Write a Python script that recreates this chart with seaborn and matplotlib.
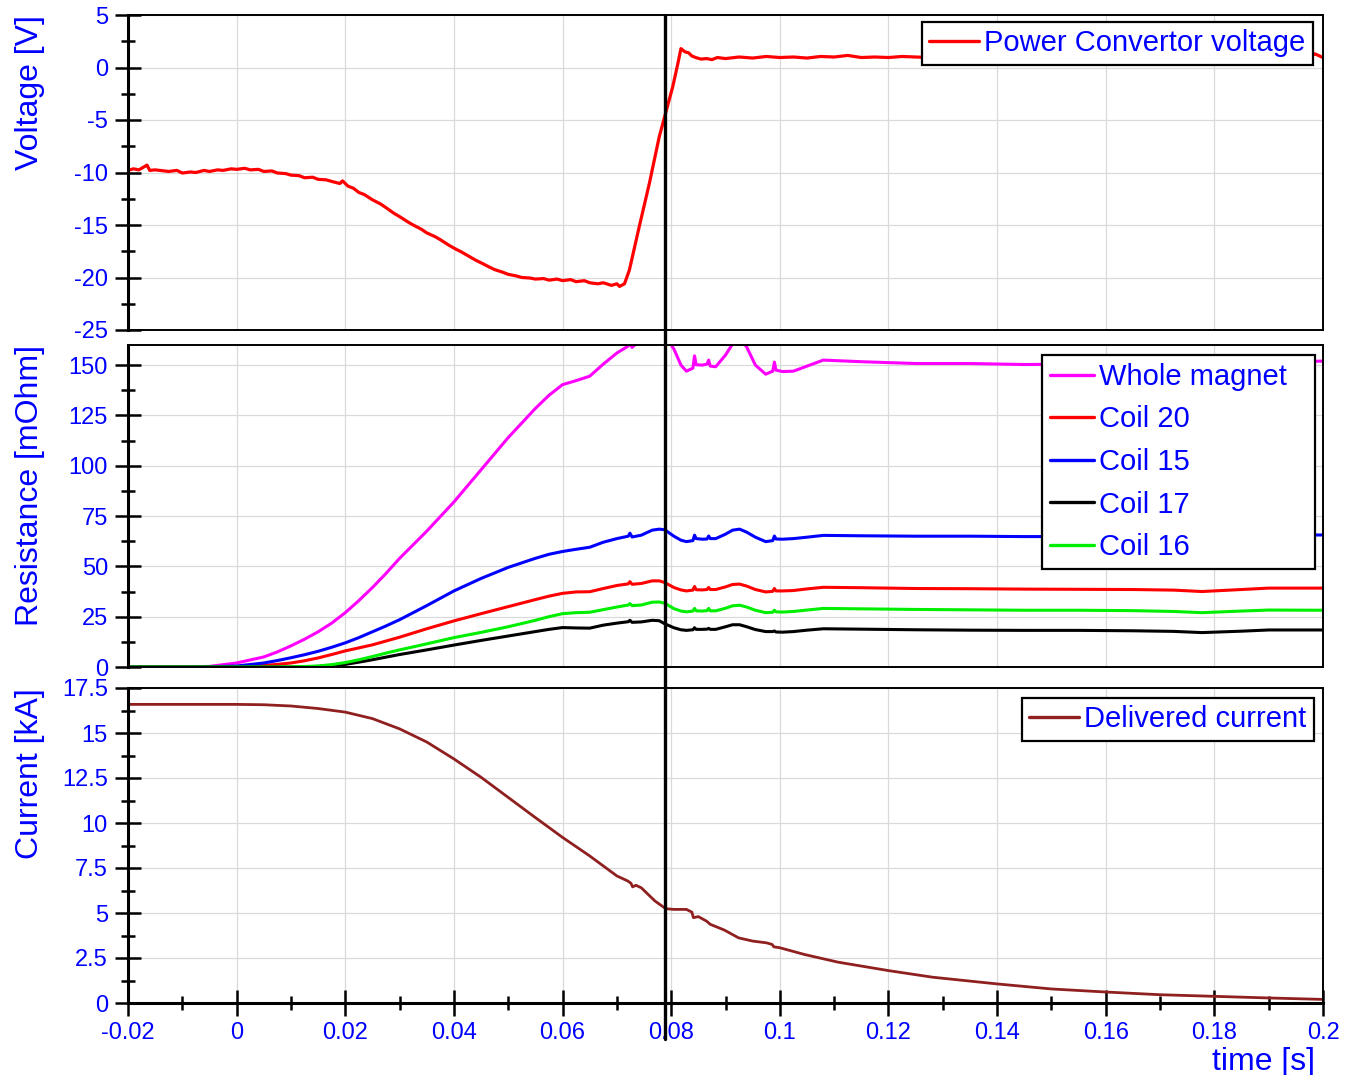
import numpy as np
import pandas as pd
import matplotlib
matplotlib.use("Agg")
import matplotlib.pyplot as plt
import matplotlib.transforms as mtransforms
from matplotlib.lines import Line2D
from matplotlib.ticker import MultipleLocator, FuncFormatter
import seaborn as sns

# ---------------------------------------------------------------- data
# power convertor voltage [V]
volt_t = [-0.02, -0.019, -0.018, -0.017, -0.0165, -0.016, -0.015, -0.0125, -0.011, -0.01,
          -0.0085, -0.0075, -0.006, -0.005, -0.0035, -0.0025, -0.001, 0.0, 0.0015, 0.0025,
          0.004, 0.005, 0.0065, 0.0075, 0.009, 0.01, 0.0115, 0.0125, 0.014, 0.015,
          0.0165, 0.0175, 0.019, 0.0195, 0.0205, 0.0215, 0.0225, 0.0235, 0.025, 0.0265,
          0.0275, 0.029, 0.03, 0.0315, 0.0325, 0.034, 0.035, 0.0365, 0.0375, 0.039,
          0.04, 0.0415, 0.0425, 0.044, 0.045, 0.0465, 0.0475, 0.049, 0.05, 0.0515,
          0.0525, 0.054, 0.055, 0.0565, 0.0575, 0.059, 0.06, 0.0615, 0.0625, 0.064,
          0.065, 0.0665, 0.0675, 0.069, 0.07, 0.0705, 0.0714, 0.0723, 0.0741, 0.076,
          0.0778, 0.0789, 0.0803, 0.0812, 0.0818, 0.0825, 0.0832, 0.0838, 0.0845, 0.0855,
          0.0865, 0.0875, 0.0885, 0.09, 0.0925, 0.095, 0.0975, 0.1, 0.1025, 0.105,
          0.1075, 0.11, 0.1125, 0.115, 0.1175, 0.12, 0.1225, 0.125, 0.1275, 0.13,
          0.1325, 0.135, 0.1375, 0.14, 0.1425, 0.145, 0.1475, 0.15, 0.1525, 0.155,
          0.1575, 0.16, 0.1625, 0.165, 0.1675, 0.17, 0.1725, 0.175, 0.1775, 0.18,
          0.1825, 0.185, 0.1875, 0.19, 0.1925, 0.195, 0.1975, 0.1985, 0.2]
volt_v = [-9.8, -9.65, -9.75, -9.45, -9.3, -9.8, -9.75, -9.9, -9.8, -10.05,
          -9.95, -10.0, -9.8, -9.9, -9.75, -9.8, -9.65, -9.7, -9.6, -9.75,
          -9.7, -9.9, -9.85, -10.05, -10.1, -10.25, -10.3, -10.5, -10.45, -10.65,
          -10.7, -10.85, -11.05, -10.8, -11.3, -11.5, -11.9, -12.1, -12.6, -13.0,
          -13.35, -13.9, -14.2, -14.7, -15.0, -15.4, -15.75, -16.1, -16.4, -16.9,
          -17.2, -17.6, -17.9, -18.35, -18.6, -19.0, -19.25, -19.5, -19.7, -19.85,
          -20.0, -20.05, -20.15, -20.1, -20.25, -20.15, -20.3, -20.2, -20.4, -20.3,
          -20.5, -20.6, -20.5, -20.75, -20.6, -20.85, -20.6, -19.3, -15.2, -11.0,
          -6.6, -4.5, -1.8, 0.3, 1.8, 1.5, 1.4, 1.1, 0.95, 0.8,
          0.85, 0.75, 0.95, 0.85, 1.0, 0.9, 1.05, 0.95, 1.0, 0.9,
          1.05, 1.0, 1.15, 0.95, 1.0, 0.95, 1.05, 1.0, 0.95, 1.1,
          1.0, 1.05, 1.0, 1.1, 1.0, 1.05, 1.0, 1.1, 1.05, 1.0,
          1.1, 1.0, 1.05, 1.1, 1.0, 1.05, 1.0, 1.1, 1.0, 1.05,
          1.0, 1.1, 1.0, 1.05, 1.0, 1.1, 1.0, 1.3, 0.95]

# resistance [mOhm], common time base
res_t = [-0.02, -0.01, -0.005, 0.0, 0.005, 0.0075, 0.01, 0.0125, 0.015, 0.0175,
         0.02, 0.0225, 0.025, 0.0275, 0.03, 0.035, 0.04, 0.045, 0.05, 0.055,
         0.0575, 0.06, 0.0625, 0.065, 0.0675, 0.07, 0.0721, 0.0724, 0.0728, 0.0745,
         0.0765, 0.0778, 0.0788, 0.0805, 0.0818, 0.0828, 0.084, 0.0843, 0.0846, 0.0857,
         0.0866, 0.0869, 0.0872, 0.0882, 0.09, 0.0913, 0.0926, 0.0939, 0.0955, 0.0974,
         0.0987, 0.099, 0.0993, 0.1005, 0.1025, 0.105, 0.108, 0.115, 0.125, 0.135,
         0.145, 0.155, 0.165, 0.1725, 0.1777, 0.185, 0.19, 0.2]
res_whole = [0, 0, 0.3, 2, 5, 7.5, 10.5, 13.8, 17.5, 21.8,
             27, 33, 39.5, 46.5, 54, 67.5, 82, 98, 114, 128.5,
             135, 140.3, 142.3, 144.5, 150.5, 156, 159.5, 161, 158.8, 163,
             165, 165, 165, 158, 150, 147, 148.5, 154.6, 150.2, 150,
             150.5, 152.5, 149.5, 149.2, 155, 160.5, 163, 159, 150, 145.5,
             147, 151.5, 147.5, 146.8, 147, 149.5, 152.5, 151.7, 150.8, 150.8,
             150.3, 150.5, 150.5, 150.5, 150, 151, 151.5, 152]
res_coil20 = [0, 0, 0, 0.2, 0.8, 1.3, 2, 3.1, 4.5, 6.2,
              8, 9.5, 11, 12.9, 14.8, 19, 22.9, 26.5, 30, 33.5,
              35.2, 36.6, 37.3, 37.4, 39, 40.5, 41.3, 42.4, 41.1, 41.5,
              42.8, 42.8, 42, 39.5, 38.3, 37.8, 38.2, 40, 38.4, 38.3,
              38.5, 39.5, 38.5, 38.5, 39.8, 41, 41.2, 40.2, 38.5, 37.3,
              37.6, 39, 37.8, 37.8, 38, 38.8, 39.6, 39.4, 39, 38.9,
              38.7, 38.6, 38.5, 38.2, 37.5, 38.5, 39.2, 39.2]
res_coil15 = [0, 0, 0.1, 0.5, 2, 3.2, 4.6, 6.1, 7.8, 9.8,
              12, 14.6, 17.5, 20.4, 23.5, 30.5, 37.8, 44, 49.5, 54,
              56, 57.4, 58.5, 59.5, 62, 63.8, 65, 66.5, 64.6, 65.5,
              68, 68.5, 68.2, 65, 63, 62.3, 62.8, 65.5, 63.8, 63.5,
              63.6, 65.1, 63.8, 63.8, 66, 68, 68.5, 67, 64.5, 62.3,
              62.8, 65.1, 63.6, 63.5, 63.8, 64.5, 65.4, 65.2, 65, 65,
              64.8, 64.8, 64.8, 64.8, 64.5, 65.2, 65.5, 65.6]
res_coil17 = [0, 0, 0, 0, 0, 0, 0, 0.1, 0.3, 0.7,
              1.3, 2.4, 3.6, 4.9, 6.2, 8.5, 10.9, 13.2, 15.4, 17.6,
              18.7, 19.6, 19.4, 19.3, 20.8, 21.8, 22.5, 23.2, 22.2, 22.4,
              23.2, 23, 21.5, 19.5, 18.5, 18.2, 18.5, 19.5, 18.7, 18.7,
              18.8, 19.2, 18.7, 18.7, 20, 21, 21, 20, 18.6, 17.6,
              17.6, 17.9, 17.4, 17.3, 17.6, 18.3, 19, 18.8, 18.5, 18.3,
              18.2, 18.2, 18, 17.7, 17.1, 17.8, 18.4, 18.4]
res_coil16 = [0, 0, 0, 0, 0, 0, 0.1, 0.25, 0.5, 1.2,
              2.2, 3.6, 5.2, 6.9, 8.5, 11.5, 14.6, 17.2, 20, 23.2,
              25, 26.5, 27, 27.2, 28.5, 29.8, 30.8, 31.5, 30.5, 30.8,
              32.2, 32.3, 31.7, 29, 27.8, 27.4, 27.8, 29.1, 27.9, 27.8,
              28, 29.1, 27.9, 27.9, 29.2, 30.4, 30.7, 29.8, 28.2, 27,
              27.2, 28.2, 27.4, 27.3, 27.6, 28.3, 29.1, 28.9, 28.6, 28.4,
              28.2, 28.2, 28, 27.6, 27, 27.8, 28.3, 28.2]

# delivered current [kA]
cur_t = [-0.02, 0.0, 0.005, 0.01, 0.015, 0.02, 0.025, 0.03, 0.035, 0.04,
         0.045, 0.05, 0.055, 0.06, 0.065, 0.07, 0.072, 0.0726, 0.0729, 0.0735,
         0.0745, 0.077, 0.079, 0.0805, 0.0828, 0.0838, 0.0841, 0.085, 0.0865, 0.0872,
         0.0898, 0.0924, 0.095, 0.0976, 0.0986, 0.0989, 0.1, 0.1046, 0.1107, 0.12,
         0.1282, 0.14, 0.15, 0.16, 0.17, 0.18, 0.19, 0.2]
cur_kA = [16.59, 16.59, 16.57, 16.5, 16.36, 16.16, 15.8, 15.23, 14.5, 13.56,
          12.54, 11.42, 10.3, 9.2, 8.17, 7.06, 6.78, 6.65, 6.45, 6.54,
          6.4, 5.67, 5.24, 5.2, 5.2, 5.05, 4.74, 4.8, 4.55, 4.37,
          4.05, 3.62, 3.44, 3.34, 3.25, 3.12, 3.07, 2.69, 2.27, 1.8,
          1.43, 1.06, 0.78, 0.61, 0.46, 0.37, 0.28, 0.2]

cursor_t = 0.0789          # time marker across all panels

res_series = ["Whole magnet", "Coil 20", "Coil 15", "Coil 17", "Coil 16"]
res_values = [res_whole, res_coil20, res_coil15, res_coil17, res_coil16]
res_colors = ["#ff00ff", "#ff0000", "#0000ff", "#000000", "#00ee00"]

time_lim = (-0.02, 0.2)
volt_lim = (-25, 5)
res_lim = (0, 160)
cur_lim = (0, 17.5)

# ---------------------------------------------------------------- style
sns.set_theme(style="white")
plt.rcParams["font.family"] = ["Liberation Sans", "DejaVu Sans"]
TXT = "#0000ff"

fig = plt.figure(figsize=(13.45, 10.75), dpi=100)
FW, FH = 1345, 1075
AXW = 1195
L, W = 128 / FW, AXW / FW
ax1 = fig.add_axes([L, 1 - 330 / FH, W, 315 / FH])
ax2 = fig.add_axes([L, 1 - 667 / FH, W, 322 / FH], sharex=ax1)
ax3 = fig.add_axes([L, 1 - 1003 / FH, W, 315 / FH], sharex=ax1)

volt_df = pd.DataFrame({"time": volt_t, "V": volt_v})
sns.lineplot(data=volt_df, x="time", y="V", ax=ax1, color="#ff0000", lw=2.3,
             sort=False, estimator=None, label="Power Convertor voltage")

for name, vals, col in zip(res_series, res_values, res_colors):
    df = pd.DataFrame({"time": res_t, "R": vals})
    sns.lineplot(data=df, x="time", y="R", ax=ax2, color=col, lw=2.2,
                 sort=False, estimator=None, label=name)

cur_df = pd.DataFrame({"time": cur_t, "I": cur_kA})
sns.lineplot(data=cur_df, x="time", y="I", ax=ax3, color="#902020", lw=2.0,
             sort=False, estimator=None, label="Delivered current")

fmt = FuncFormatter(lambda v, p: "%g" % round(v, 6))

panels = [
    (ax1, volt_lim, 5, 2.5, "Voltage [V]"),
    (ax2, res_lim, 25, 12.5, "Resistance [mOhm]"),
    (ax3, cur_lim, 2.5, 1.25, "Current [kA]"),
]
for ax, ylim, major, minor, ylab in panels:
    ax.set_xlim(*time_lim)
    ax.set_ylim(*ylim)
    ax.yaxis.set_major_locator(MultipleLocator(major))
    ax.yaxis.set_minor_locator(MultipleLocator(minor))
    ax.yaxis.set_major_formatter(fmt)
    ax.xaxis.set_major_locator(MultipleLocator(0.02))
    ax.xaxis.set_minor_locator(MultipleLocator(0.01))
    ax.xaxis.set_major_formatter(fmt)
    ax.grid(True, which="major", color="#dadada", lw=0.9)
    ax.set_axisbelow(True)
    for s in ax.spines.values():
        s.set_visible(True)
        s.set_color("black")
        s.set_linewidth(1.4)
    ax.spines["left"].set_linewidth(2.2)
    ax.tick_params(axis="y", which="major", left=True, direction="inout", length=19,
                   width=1.8, color="black", labelcolor=TXT, labelsize=17, pad=5)
    ax.tick_params(axis="y", which="minor", left=True, direction="inout", length=10,
                   width=1.8, color="black")
    ax.set_xlabel("")
    ax.set_ylabel(ylab, loc="top", color=TXT, fontsize=23)
    ax.yaxis.set_label_coords((45 - 128) / AXW, 1.0)

for ax in (ax1, ax2):
    ax.tick_params(axis="x", which="both", bottom=False, labelbottom=False, length=0)

ax3.spines["bottom"].set_linewidth(2.2)
ax3.tick_params(axis="x", which="major", bottom=True, direction="inout", length=19,
                width=1.8, color="black", labelcolor=TXT, labelsize=17, pad=4)
ax3.tick_params(axis="x", which="minor", bottom=True, direction="inout", length=10,
                width=1.8, color="black")
ax3.set_xlabel("time [s]", loc="right", color=TXT, fontsize=23)
ax3.xaxis.set_label_coords(1 - 8 / AXW, -0.14)

leg_kw = dict(frameon=True, fancybox=False, edgecolor="black", facecolor="white",
              framealpha=1, fontsize=21, handletextpad=0.2, labelcolor=TXT,
              borderaxespad=0)


def restyle(leg):
    leg.get_frame().set_linewidth(1.6)
    for ln in leg.get_lines():
        ln.set_linewidth(2.4)


h, lab = ax1.get_legend_handles_labels()
restyle(ax1.legend(h, lab, loc="upper right", bbox_to_anchor=(1 - 10 / AXW, 1 - 7 / 315),
                   handlelength=1.7, borderpad=0.25, **leg_kw))

# resistance legend box spans a fixed width, entries left-aligned inside it
h, lab = ax2.get_legend_handles_labels()
box_x0 = (1042 - 128) / AXW
box_w = (1315 - 1042) / AXW
restyle(ax2.legend(h, lab, loc="upper left", mode="expand",
                   bbox_to_anchor=(box_x0, 0, box_w, 1 - 10 / 322),
                   handlelength=1.5, borderpad=0.27, labelspacing=0.5, **leg_kw))

h, lab = ax3.get_legend_handles_labels()
restyle(ax3.legend(h, lab, loc="upper right", bbox_to_anchor=(1 - 9 / AXW, 1 - 10 / 315),
                   handlelength=1.7, borderpad=0.25, **leg_kw))

# time marker through all three panels
trans = mtransforms.blended_transform_factory(ax3.transData, fig.transFigure)
fig.add_artist(Line2D([cursor_t, cursor_t], [1 - 1039 / FH, 1 - 15 / FH], transform=trans,
                      color="black", lw=2.4, clip_on=False, zorder=10))

fig.savefig("out.png", dpi=100)
